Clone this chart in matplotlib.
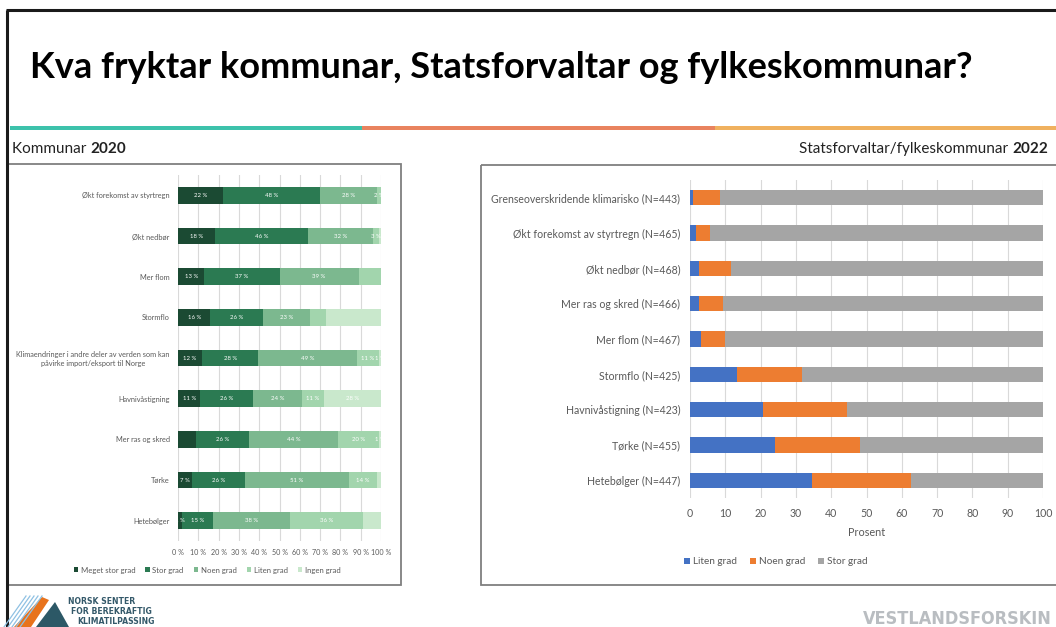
import numpy as np
import matplotlib.pyplot as plt
from matplotlib.patches import Rectangle, Polygon

W, H = 1056, 627

title = "Kva fryktar kommunar, Statsforvaltar og fylkeskommunar?"

# Kommunar 2020 (percent, top to bottom)
cats_2020 = ["Økt forekomst av styrtregn", "Økt nedbør", "Mer flom", "Stormflo",
             "Klimaendringer i andre deler av verden som kan\npåvirke import/eksport til Norge",
             "Havnivåstigning", "Mer ras og skred", "Tørke", "Hetebølger"]
meget_stor = [22, 18, 13, 16, 12, 11, 9, 7, 2]
stor = [48, 46, 37, 26, 28, 26, 26, 26, 15]
noen = [28, 32, 39, 23, 49, 24, 44, 51, 38]
liten = [2, 3, 11, 8, 11, 11, 20, 14, 36]
ingen = [0, 1, 0, 27, 1, 28, 1, 2, 9]
levels_2020 = ["Meget stor grad", "Stor grad", "Noen grad", "Liten grad", "Ingen grad"]
colors_2020 = ["#1b4a33", "#2b7a52", "#7cb88f", "#a2d5ad", "#c9e8cc"]
# (row, level) whose data label is not shown in the original
hidden_2020 = {(1, 4), (2, 3), (3, 3), (3, 4), (6, 0), (7, 4), (8, 4)}
xticks_2020 = [f"{t} %" for t in range(0, 101, 10)]

# Statsforvaltar/fylkeskommunar 2022
cats_2022 = ["Grenseoverskridende klimarisko (N=443)", "Økt forekomst av styrtregn (N=465)",
             "Økt nedbør (N=468)", "Mer ras og skred (N=466)", "Mer flom (N=467)",
             "Stormflo (N=425)", "Havnivåstigning (N=423)", "Tørke (N=455)",
             "Hetebølger (N=447)"]
liten_2022 = [0.8, 1.8, 2.6, 2.6, 3.0, 13.2, 20.7, 24.0, 34.6]
noen_2022 = [7.7, 4.0, 9.1, 6.7, 6.9, 18.6, 23.7, 24.1, 28.1]
stor_2022 = [91.5, 94.2, 88.3, 90.7, 90.1, 68.2, 55.6, 51.9, 37.3]
levels_2022 = ["Liten grad", "Noen grad", "Stor grad"]
colors_2022 = ["#4472c4", "#ed7d31", "#a5a5a5"]

plt.rcParams['font.family'] = ['Lato', 'DejaVu Sans']
grey_txt = "#595959"


def px(x0, y0, x1, y1):
    return [x0 / W, 1 - y1 / H, (x1 - x0) / W, (y1 - y0) / H]


fig = plt.figure(figsize=(W / 100, H / 100), dpi=100)
fig.patch.set_facecolor("white")

# slide decoration, pixel coordinates
bg = fig.add_axes([0, 0, 1, 1])
bg.set_xlim(0, W)
bg.set_ylim(H, 0)
bg.axis("off")

bg.plot([6, W], [10, 10], color="#1a1a1a", lw=2.2, solid_capstyle="butt")
bg.plot([7, 7], [10, H], color="#1a1a1a", lw=2.2, solid_capstyle="butt")

for x0, x1, c in [(10, 362, "#3dc2ab"), (362, 715, "#e9835f"), (715, W, "#f0b15f")]:
    bg.add_patch(Rectangle((x0, 126), x1 - x0, 4, color=c, lw=0))

bg.text(30, 67, title, fontsize=26, fontweight="bold", va="center", ha="left")

t1 = bg.text(12, 153, "Kommunar ", fontsize=11, va="baseline", color="#222222")
bg.annotate("2020", xy=(1, 0), xycoords=t1, fontsize=11, fontweight="bold",
            va="bottom", ha="left", color="#222222")
t2 = bg.text(1048, 153, "2022", fontsize=11, fontweight="bold", va="baseline",
             ha="right", color="#222222")
bg.annotate("Statsforvaltar/fylkeskommunar ", xy=(0, 0), xycoords=t2, fontsize=11,
            va="bottom", ha="right", color="#222222")

bg.add_patch(Rectangle((8, 164), 393, 421, fill=False, ec="#7f7f7f", lw=1.3))
bg.add_patch(Rectangle((481, 165), 600, 420, fill=False, ec="#7f7f7f", lw=1.3))

# logos
for k in range(5):
    bg.plot([4 + 4 * k, 26 + 4 * k], [627, 596], color="#8fc1e3", lw=0.9)
bg.add_patch(Polygon([(14, 627), (31, 627), (49, 600), (42, 597)], color="#e8731c", lw=0))
bg.add_patch(Polygon([(36, 627), (69, 627), (55, 602)], color="#2c5866", lw=0))
for i, (s, x) in enumerate([("NORSK SENTER", 68), ("FOR BEREKRAFTIG", 71), ("KLIMATILPASSING", 77)]):
    bg.text(x, 602 + 10 * i, s, fontsize=5.6, fontweight="bold", color="#34596a",
            va="center", ha="left", family=["DejaVu Sans"])
bg.text(1052, 624, "VESTLANDSFORSKIN", fontsize=13, fontweight="bold", color="#b9bdc1",
        va="baseline", ha="right", family=["DejaVu Sans"], fontstretch="condensed")

# left chart: Kommunar 2020
axL = fig.add_axes(px(178, 175, 381, 541))
axL.set_facecolor("none")
data = np.array([meget_stor, stor, noen, liten, ingen], dtype=float)
shares = data / data.sum(axis=0) * 100
y = np.arange(len(cats_2020))
left = np.zeros(len(y))
for i, (lvl, col) in enumerate(zip(levels_2020, colors_2020)):
    axL.barh(y, shares[i], left=left, height=0.41, color=col, label=lvl, zorder=2)
    for j in range(len(y)):
        v = data[i, j]
        if v > 0 and (j, i) not in hidden_2020:
            axL.text(left[j] + shares[i, j] / 2, y[j], f"{v:g} %", ha="center",
                     va="center", fontsize=4.3, color="white", zorder=3)
    left += shares[i]
axL.set_xlim(0, 100)
axL.set_ylim(len(y) - 0.5, -0.5)
axL.set_xticks(range(0, 101, 10))
axL.set_xticklabels(xticks_2020)
axL.set_yticks(y)
axL.set_yticklabels(cats_2020)
for lab in axL.get_yticklabels():
    lab.set_multialignment("center")
axL.tick_params(length=0, labelsize=5.3, labelcolor=grey_txt, pad=6)
axL.tick_params(axis="x", labelsize=5.1)
axL.grid(axis="x", color="#d9d9d9", lw=0.8, zorder=0)
for s in axL.spines.values():
    s.set_visible(False)
axL.legend(loc="center", bbox_to_anchor=(207 / W, 1 - 570 / H), bbox_transform=fig.transFigure,
           ncol=5, fontsize=5.6, frameon=False, handlelength=0.6, handleheight=0.6,
           handletextpad=0.3, columnspacing=1.3, labelcolor=grey_txt)

# right chart: Statsforvaltar/fylkeskommunar 2022
axR = fig.add_axes(px(690, 180, 1043, 498))
axR.set_facecolor("none")
y2 = np.arange(len(cats_2022))
left2 = np.zeros(len(y2))
for vals, lvl, col in zip([liten_2022, noen_2022, stor_2022], levels_2022, colors_2022):
    axR.barh(y2, vals, left=left2, height=0.44, color=col, label=lvl, zorder=2)
    left2 += np.array(vals)
axR.set_xlim(0, 100)
axR.set_ylim(len(y2) - 0.5, -0.5)
axR.set_xticks(range(0, 101, 10))
axR.set_yticks(y2)
axR.set_yticklabels(cats_2022)
axR.tick_params(length=0, labelsize=7.6, labelcolor=grey_txt, pad=7)
axR.set_xlabel("Prosent", fontsize=7.8, color=grey_txt, labelpad=6)
axR.grid(axis="x", color="#d9d9d9", lw=0.8, zorder=0)
for s in axR.spines.values():
    s.set_visible(False)
axR.legend(loc="center", bbox_to_anchor=(776 / W, 1 - 562 / H), bbox_transform=fig.transFigure,
           ncol=3, fontsize=7.2, frameon=False, handlelength=0.6, handleheight=0.6,
           handletextpad=0.3, columnspacing=1.3, labelcolor=grey_txt)

fig.savefig("out.png", dpi=100)
